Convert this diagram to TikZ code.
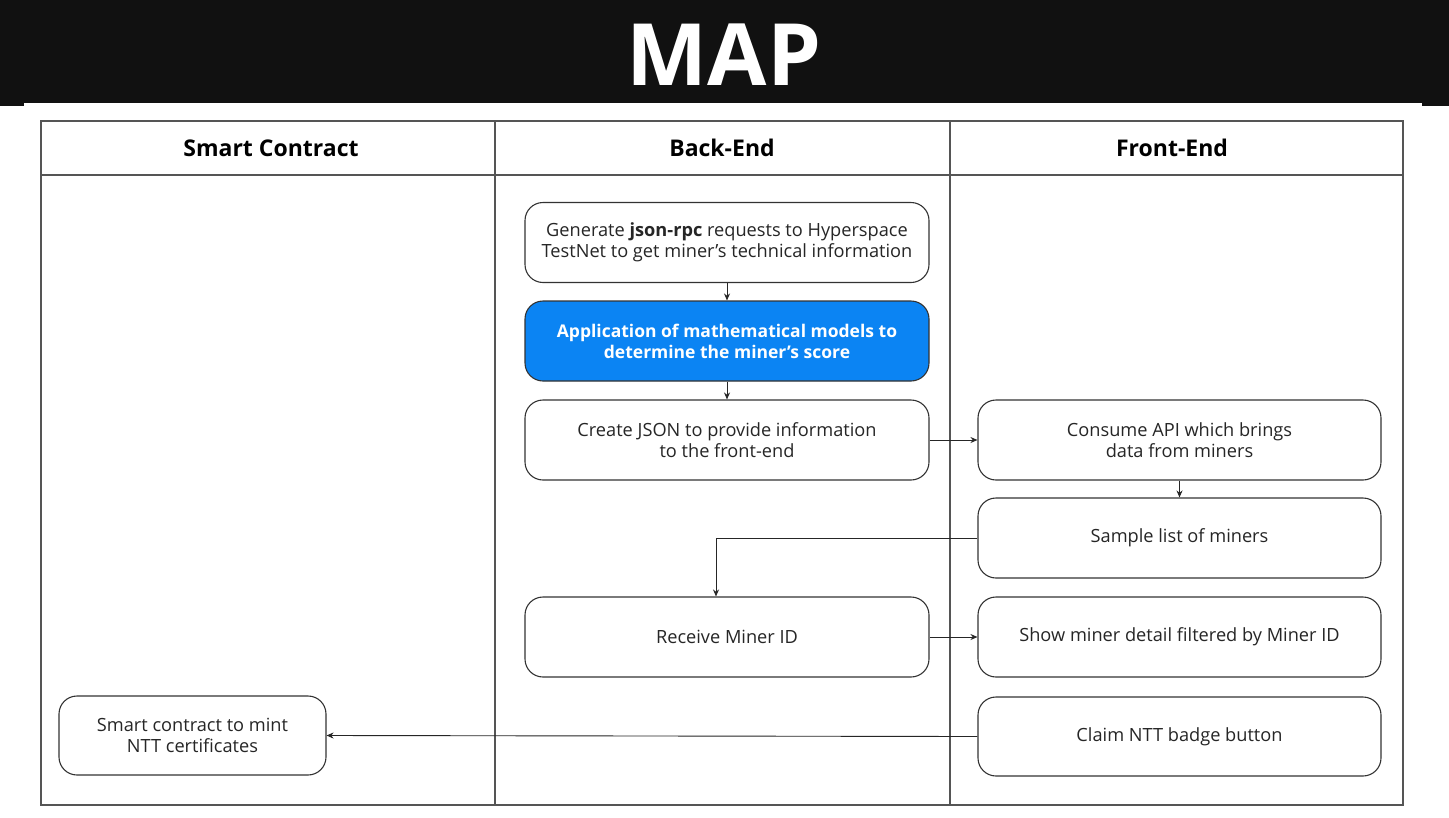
\documentclass[tikz,border=0pt]{standalone}
\usepackage{fontspec}
\setmainfont{Open Sans}
\usetikzlibrary{arrows.meta,calc}
\definecolor{bandblack}{HTML}{111111}
\definecolor{boxblue}{HTML}{0B84F3}
\definecolor{linegrey}{HTML}{555555}
\definecolor{boxline}{HTML}{333333}
\newcommand{\sq}{{\char"27}}
\begin{document}
\begin{tikzpicture}[x=1pt,y=-1pt,
  flowbox/.style={draw=boxline,line width=1.1pt,rounded corners=18pt,fill=white,
    minimum width=404pt,minimum height=80pt,align=center,inner sep=0pt,
    font=\fontsize{18.2}{21}\selectfont,text=black!85},
  bluebox/.style={flowbox,fill=boxblue,draw=boxline,text=white,font=\fontsize{17.5}{21}\selectfont\bfseries},
  colhead/.style={font=\fontsize{23}{27}\selectfont\bfseries,text=black},
  conn/.style={draw=black!85,line width=0.9pt},
  arr/.style={conn,-{Stealth[length=7pt,width=6pt]}}]
\useasboundingbox (0,0) rectangle (1449,817);
\fill[white] (0,0) rectangle (1449,817);
% header band
\fill[bandblack] (0,0) rectangle (1449,106);
\fill[white] (24,103) rectangle (1422,106);
\node[text=white,font=\fontsize{86}{90}\selectfont\bfseries] (title) at (724,55) {MAP};
% table
\draw[linegrey,line width=1.6pt] (41,121) rectangle (1403,805);
\draw[linegrey,line width=1.3pt] (41,175) -- (1403,175);
\draw[linegrey,line width=1.3pt] (495,121) -- (495,805);
\draw[linegrey,line width=1.3pt] (950,121) -- (950,805);
\node[colhead] (h1) at (271,148) {Smart Contract};
\node[colhead] (h2) at (722,148) {Back-End};
\node[colhead] (h3) at (1172,148) {Front-End};
% boxes
\node[flowbox] (gen) at (727,242.5) {Generate \textbf{json-rpc} requests to Hyperspace\\TestNet to get miner\sq s technical information};
\node[bluebox] (app) at (727,341) {Application of mathematical models to\\determine the miner\sq s score};
\node[flowbox] (json) at (727,440) {Create JSON to provide information\\to the front-end};
\node[flowbox,minimum width=403pt] (api) at (1179.5,440) {Consume API which brings\\data from miners};
\node[flowbox,minimum width=403pt] (list) at (1179.5,538) {Sample list of miners};
\node[flowbox] (recv) at (727,637) {Receive Miner ID};
\node[flowbox,minimum width=403pt] (show) at (1179.5,637) {Show miner detail filtered by Miner ID};
\node[flowbox,minimum width=403pt,minimum height=79pt] (claim) at (1179.5,736.5) {Claim NTT badge button};
\node[flowbox,minimum width=267pt,minimum height=79pt] (sc) at (192.5,735.5) {Smart contract to mint\\NTT certificates};
% connectors
\draw[arr] (gen.south) -- (app.north);
\draw[arr] (app.south) -- (json.north);
\draw[arr] (json.east) -- (api.west);
\draw[arr] (api.south) -- (list.north);
\draw[arr] (list.west) -| ([xshift=-11pt]recv.north);
\draw[arr] (recv.east) -- (show.west);
\draw[arr] (claim.west) -- (sc.east);
\end{tikzpicture}
\end{document}
